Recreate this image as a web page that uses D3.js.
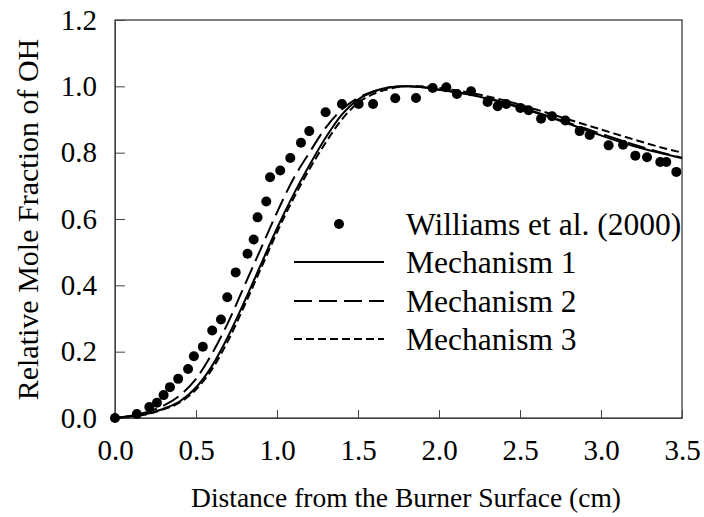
<!DOCTYPE html>
<html lang="en">
<head>
<meta charset="UTF-8">
<title>Relative OH</title>
<script src="https://d3js.org/d3.v7.min.js"></script>
<style>
    body { margin: 0; background: white; }
</style>
</head>
<body>
<svg id="chart"></svg>
<script>
// measured points (Williams et al. 2000)
const obsX = [0.0, 0.135, 0.212, 0.259, 0.300, 0.339, 0.390, 0.451, 0.487, 0.542, 0.600, 0.654, 0.693, 0.745, 0.818, 0.856, 0.880, 0.934, 0.957, 1.02, 1.082, 1.148, 1.199, 1.300, 1.401, 1.504, 1.593, 1.730, 1.858, 1.961, 2.045, 2.111, 2.198, 2.300, 2.362, 2.415, 2.502, 2.553, 2.630, 2.698, 2.780, 2.868, 2.930, 3.047, 3.136, 3.212, 3.284, 3.366, 3.403, 3.465];
const obsY = [0.0, 0.012, 0.033, 0.046, 0.069, 0.093, 0.118, 0.148, 0.186, 0.215, 0.264, 0.297, 0.364, 0.439, 0.495, 0.538, 0.605, 0.653, 0.726, 0.746, 0.784, 0.830, 0.865, 0.922, 0.947, 0.947, 0.947, 0.964, 0.965, 0.995, 0.997, 0.977, 0.985, 0.953, 0.940, 0.947, 0.935, 0.928, 0.902, 0.910, 0.897, 0.865, 0.853, 0.822, 0.824, 0.791, 0.786, 0.772, 0.772, 0.742];

// model curves
const modelX = [0, 0.1, 0.2, 0.3, 0.4, 0.5, 0.6, 0.7, 0.8, 0.9, 1.0, 1.1, 1.2, 1.3, 1.4, 1.5, 1.6, 1.7, 1.8, 1.9, 2.0, 2.2, 2.4, 2.6, 2.8, 3.0, 3.2, 3.4, 3.5];
const mech1 = [0, 0.005, 0.013, 0.028, 0.05, 0.092, 0.158, 0.248, 0.352, 0.462, 0.572, 0.672, 0.762, 0.845, 0.915, 0.96, 0.985, 0.997, 1.0, 0.997, 0.99, 0.974, 0.95, 0.92, 0.887, 0.852, 0.82, 0.795, 0.783];
const mech2 = [0, 0.007, 0.018, 0.037, 0.068, 0.118, 0.195, 0.29, 0.40, 0.51, 0.62, 0.72, 0.80, 0.875, 0.93, 0.965, 0.985, 0.997, 1.0, 0.997, 0.99, 0.975, 0.952, 0.922, 0.89, 0.857, 0.825, 0.797, 0.785];
const mech3 = [0, 0.005, 0.012, 0.026, 0.047, 0.086, 0.148, 0.235, 0.34, 0.45, 0.56, 0.66, 0.75, 0.83, 0.90, 0.95, 0.978, 0.993, 1.0, 1.0, 0.995, 0.98, 0.958, 0.93, 0.9, 0.87, 0.84, 0.812, 0.80];

const xTicks = [0.0, 0.5, 1.0, 1.5, 2.0, 2.5, 3.0, 3.5];
const yTicks = [0.0, 0.2, 0.4, 0.6, 0.8, 1.0, 1.2];

const w = 704, h = 517;
const mLeft = 115, mRight = 682, mTop = 20, mBottom = 418;
const serif = "'Times New Roman', Times, 'Liberation Serif', 'DejaVu Serif', serif";

const svg = d3.select("#chart").attr("width", w).attr("height", h);

const x = d3.scaleLinear().domain([0, 3.5]).range([mLeft, mRight]);
const y = d3.scaleLinear().domain([0, 1.2]).range([mBottom, mTop]);

// frame
svg.append("rect")
   .attr("x", mLeft).attr("y", mTop)
   .attr("width", mRight - mLeft).attr("height", mBottom - mTop)
   .attr("fill", "none").attr("stroke", "#000").attr("stroke-width", 1);

const xAxis = d3.axisBottom(x).tickValues(xTicks).tickFormat(d3.format(".1f"))
    .tickSizeInner(-8).tickSizeOuter(0).tickPadding(21);
const yAxis = d3.axisLeft(y).tickValues(yTicks).tickFormat(d3.format(".1f"))
    .tickSizeInner(-10).tickSizeOuter(0).tickPadding(18);

const gx = svg.append("g").attr("transform", "translate(0," + mBottom + ")").call(xAxis);
const gy = svg.append("g").attr("transform", "translate(" + mLeft + ",0)").call(yAxis);
[gx, gy].forEach(g => {
    g.attr("font-family", null).attr("font-size", null)
     .style("font-family", serif).style("font-size", "29px");
    g.select(".domain").attr("stroke", "#444");
    g.selectAll(".tick line").attr("stroke", "#444");
    g.selectAll(".tick text").attr("fill", "#000");
});

// curves
const line = d3.line().x((d, i) => x(modelX[i])).y(d => y(d)).curve(d3.curveMonotoneX);
const series = [
    {name: "Mechanism 1", values: mech1, dash: null},
    {name: "Mechanism 2", values: mech2, dash: "18,7"},
    {name: "Mechanism 3", values: mech3, dash: "8,4"}
];
series.forEach(s => {
    svg.append("path")
       .attr("d", line(s.values))
       .attr("fill", "none")
       .attr("stroke", "#000")
       .attr("stroke-width", 2)
       .attr("stroke-dasharray", s.dash);
});

// measured dots
svg.selectAll("circle.obs")
   .data(obsX)
   .enter()
   .append("circle")
   .attr("class", "obs")
   .attr("cx", d => x(d))
   .attr("cy", (d, i) => y(obsY[i]))
   .attr("r", 5)
   .attr("fill", "#000");

// legend
const legX1 = 294, legX2 = 384, legText = 406;
const legY = [224, 262, 301, 339];
const leg = svg.append("g").style("font-family", serif).style("font-size", "31.5px");
leg.append("circle").attr("cx", (legX1 + legX2) / 2).attr("cy", legY[0]).attr("r", 5).attr("fill", "#000");
leg.append("text").attr("x", legText).attr("y", legY[0]).attr("dy", "0.35em")
   .text("Williams et al. (2000)");
series.forEach((s, i) => {
    leg.append("line")
       .attr("x1", legX1).attr("x2", legX2)
       .attr("y1", legY[i + 1]).attr("y2", legY[i + 1])
       .attr("stroke", "#000").attr("stroke-width", 2)
       .attr("stroke-dasharray", s.dash);
    leg.append("text").attr("x", legText).attr("y", legY[i + 1]).attr("dy", "0.35em")
       .text(s.name);
});

// axis titles
svg.append("text")
   .attr("x", 406).attr("y", 507)
   .style("font-family", serif).style("font-size", "27.5px")
   .attr("text-anchor", "middle")
   .text("Distance from the Burner Surface (cm)");

svg.append("text")
   .attr("transform", "rotate(-90)")
   .attr("x", -219.5).attr("y", 38)
   .style("font-family", serif).style("font-size", "30px")
   .attr("text-anchor", "middle")
   .text("Relative Mole Fraction of OH");
</script>
</body>
</html>
